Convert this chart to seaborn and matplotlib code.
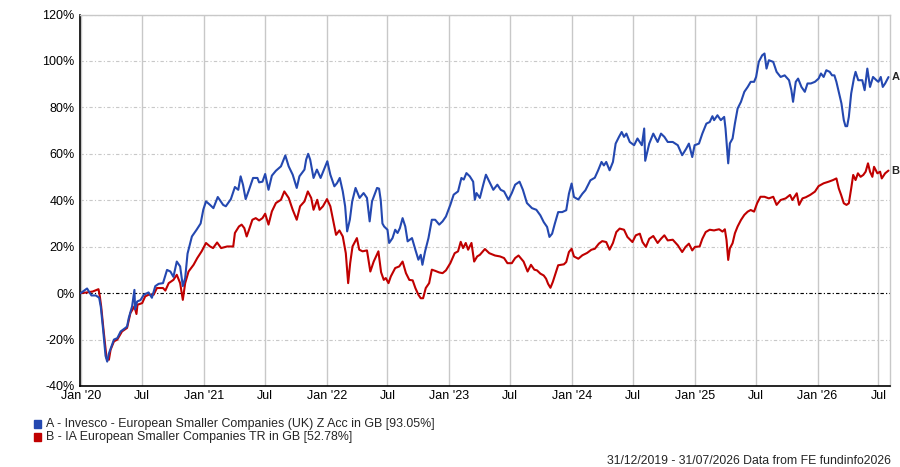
import pandas as pd
import matplotlib
matplotlib.use("Agg")
import matplotlib.pyplot as plt
from matplotlib.patches import Rectangle
import seaborn as sns

# cumulative growth (%)
dates_a = [
    "2019-12-31", "2020-01-19", "2020-02-01", "2020-02-14", "2020-02-24", "2020-02-29", "2020-03-07", "2020-03-14",
    "2020-03-19", "2020-03-24", "2020-03-29", "2020-04-08", "2020-04-18", "2020-04-28", "2020-05-12", "2020-05-17",
    "2020-05-22", "2020-06-01", "2020-06-08", "2020-06-10", "2020-06-16", "2020-06-26", "2020-07-06", "2020-07-20",
    "2020-07-30", "2020-08-09", "2020-08-19", "2020-09-01", "2020-09-13", "2020-09-23", "2020-10-02", "2020-10-12",
    "2020-10-22", "2020-10-30", "2020-11-06", "2020-11-13", "2020-11-26", "2020-12-10", "2020-12-22", "2020-12-30",
    "2021-01-07", "2021-01-19", "2021-01-29", "2021-02-11", "2021-02-27", "2021-03-07", "2021-03-22", "2021-04-03",
    "2021-04-13", "2021-04-20", "2021-04-27", "2021-05-05", "2021-05-15", "2021-05-27", "2021-06-09", "2021-06-14",
    "2021-06-24", "2021-07-02", "2021-07-12", "2021-07-22", "2021-08-03", "2021-08-18", "2021-08-26", "2021-08-31",
    "2021-09-10", "2021-09-22", "2021-10-04", "2021-10-12", "2021-10-27", "2021-11-01", "2021-11-07", "2021-11-13",
    "2021-11-23", "2021-12-03", "2021-12-14", "2021-12-24", "2022-01-03", "2022-01-12", "2022-01-24", "2022-02-01",
    "2022-02-09", "2022-02-18", "2022-02-25", "2022-03-03", "2022-03-11", "2022-03-18", "2022-03-28", "2022-04-09",
    "2022-04-21", "2022-05-01", "2022-05-09", "2022-05-16", "2022-05-31", "2022-06-06", "2022-06-11", "2022-06-16",
    "2022-06-21", "2022-07-01", "2022-07-06", "2022-07-16", "2022-07-24", "2022-07-31", "2022-08-07", "2022-08-15",
    "2022-08-23", "2022-08-30", "2022-09-12", "2022-09-22", "2022-10-01", "2022-10-08", "2022-10-13", "2022-10-21",
    "2022-10-31", "2022-11-10", "2022-11-20", "2022-12-02", "2022-12-12", "2022-12-22", "2023-01-04", "2023-01-14",
    "2023-01-27", "2023-02-06", "2023-02-13", "2023-02-21", "2023-03-03", "2023-03-13", "2023-03-18", "2023-03-23",
    "2023-04-02", "2023-04-12", "2023-04-20", "2023-04-30", "2023-05-12", "2023-05-24", "2023-06-03", "2023-06-13",
    "2023-06-26", "2023-07-06", "2023-07-16", "2023-07-29", "2023-08-08", "2023-08-20", "2023-09-04", "2023-09-17",
    "2023-09-29", "2023-10-09", "2023-10-19", "2023-10-26", "2023-11-03", "2023-11-11", "2023-11-21", "2023-12-03",
    "2023-12-15", "2023-12-23", "2023-12-31", "2024-01-07", "2024-01-20", "2024-02-01", "2024-02-10", "2024-02-25",
    "2024-03-09", "2024-03-19", "2024-03-29", "2024-04-05", "2024-04-12", "2024-04-22", "2024-05-02", "2024-05-10",
    "2024-05-20", "2024-05-28", "2024-06-04", "2024-06-11", "2024-06-21", "2024-07-04", "2024-07-14", "2024-07-27",
    "2024-08-03", "2024-08-06", "2024-08-10", "2024-08-18", "2024-08-30", "2024-09-12", "2024-09-22", "2024-10-02",
    "2024-10-12", "2024-10-27", "2024-11-11", "2024-11-24", "2024-12-06", "2024-12-14", "2024-12-24", "2024-12-31",
    "2025-01-13", "2025-01-23", "2025-02-04", "2025-02-14", "2025-02-22", "2025-02-27", "2025-03-09", "2025-03-19",
    "2025-03-29", "2025-04-02", "2025-04-08", "2025-04-10", "2025-04-15", "2025-04-23", "2025-04-30", "2025-05-08",
    "2025-05-18", "2025-05-28", "2025-06-07", "2025-06-16", "2025-06-26", "2025-07-02", "2025-07-10", "2025-07-20",
    "2025-07-27", "2025-08-02", "2025-08-09", "2025-08-22", "2025-09-01", "2025-09-13", "2025-09-25", "2025-10-08",
    "2025-10-15", "2025-10-20", "2025-10-28", "2025-11-04", "2025-11-14", "2025-11-24", "2025-12-02", "2025-12-12",
    "2025-12-24", "2026-01-04", "2026-01-11", "2026-01-19", "2026-01-27", "2026-02-06", "2026-02-13", "2026-02-20",
    "2026-02-26", "2026-03-05", "2026-03-13", "2026-03-20", "2026-03-25", "2026-03-30", "2026-04-04", "2026-04-11",
    "2026-04-19", "2026-04-24", "2026-05-02", "2026-05-14", "2026-05-21", "2026-05-29", "2026-06-06", "2026-06-15",
    "2026-06-25", "2026-07-01", "2026-07-08", "2026-07-14", "2026-07-21", "2026-07-31",
]
growth_a = [
    0.0, 2.0, -1.0, -1.0, -2.0, -6.0, -16.0, -27.0,
    -29.5, -26.0, -24.0, -20.0, -19.4, -16.5, -15.0, -14.4,
    -10.8, -5.7, 1.4, -7.0, -3.6, -3.0, -0.7, 0.3,
    -2.0, 3.0, 4.0, 4.3, 10.0, 9.3, 7.0, 13.6,
    11.5, 3.0, 6.5, 17.0, 24.4, 27.3, 30.0, 36.0,
    39.5, 38.0, 36.6, 41.4, 38.0, 37.4, 40.5, 45.7,
    44.5, 50.3, 46.7, 40.5, 44.5, 49.6, 49.6, 47.7,
    48.0, 51.3, 44.5, 50.6, 52.7, 54.6, 57.5, 59.3,
    54.6, 51.0, 45.3, 50.3, 53.2, 57.5, 60.0, 57.5,
    49.6, 53.2, 49.6, 53.2, 56.8, 51.0, 46.0, 47.4,
    49.6, 43.8, 37.4, 26.6, 31.6, 39.5, 45.3, 41.0,
    43.1, 41.0, 30.9, 39.5, 45.3, 45.0, 40.0, 30.0,
    28.7, 27.3, 21.6, 23.7, 27.3, 25.9, 28.0, 32.3,
    28.7, 22.3, 23.7, 18.7, 14.4, 16.5, 12.2, 18.0,
    23.7, 31.6, 31.6, 29.5, 30.9, 33.0, 38.0, 42.4,
    43.8, 49.6, 48.9, 51.7, 50.3, 48.0, 40.2, 43.1,
    41.0, 46.7, 51.0, 48.0, 44.5, 46.7, 44.5, 43.8,
    40.2, 43.1, 46.7, 48.0, 44.5, 38.8, 36.6, 35.9,
    33.5, 30.6, 28.5, 24.2, 25.6, 29.9, 34.9, 34.9,
    35.7, 42.8, 47.2, 41.4, 40.3, 42.8, 44.3, 48.6,
    49.7, 52.9, 56.5, 55.0, 56.5, 52.9, 56.5, 64.4,
    67.3, 69.4, 67.3, 68.7, 65.1, 63.7, 66.6, 63.7,
    70.9, 57.0, 59.4, 64.4, 68.7, 65.1, 68.7, 67.3,
    65.1, 65.1, 63.7, 59.4, 62.2, 64.4, 58.6, 63.7,
    64.4, 68.7, 73.0, 73.7, 76.2, 74.5, 76.6, 74.5,
    75.9, 70.9, 59.5, 55.9, 64.5, 66.6, 73.1, 79.5,
    82.4, 86.7, 88.8, 91.0, 91.0, 93.1, 99.6, 102.4,
    103.2, 96.7, 100.3, 99.6, 95.3, 93.1, 93.8, 91.7,
    87.4, 82.4, 91.0, 92.4, 88.8, 86.7, 90.3, 90.3,
    91.0, 92.4, 94.6, 93.1, 96.0, 95.3, 93.8, 93.8,
    91.0, 86.7, 81.7, 74.5, 71.9, 71.9, 75.9, 86.0,
    92.4, 95.3, 91.7, 91.7, 87.4, 96.7, 88.8, 93.1,
    91.7, 91.0, 93.1, 88.8, 90.3, 93.05,
]

dates_b = [
    "2019-12-31", "2020-01-19", "2020-02-05", "2020-02-22", "2020-02-26", "2020-03-01", "2020-03-08", "2020-03-17",
    "2020-03-24", "2020-03-29", "2020-04-08", "2020-04-18", "2020-05-02", "2020-05-17", "2020-05-27", "2020-06-08",
    "2020-06-14", "2020-06-17", "2020-07-01", "2020-07-10", "2020-07-20", "2020-08-04", "2020-08-14", "2020-09-01",
    "2020-09-08", "2020-09-18", "2020-10-02", "2020-10-12", "2020-10-22", "2020-10-30", "2020-11-06", "2020-11-16",
    "2020-12-01", "2020-12-12", "2020-12-25", "2021-01-07", "2021-01-19", "2021-01-28", "2021-02-09", "2021-02-21",
    "2021-03-11", "2021-03-29", "2021-04-03", "2021-04-15", "2021-04-23", "2021-05-01", "2021-05-08", "2021-05-15",
    "2021-05-25", "2021-06-04", "2021-06-14", "2021-06-24", "2021-07-02", "2021-07-12", "2021-07-22", "2021-08-03",
    "2021-08-18", "2021-08-28", "2021-09-10", "2021-09-22", "2021-10-04", "2021-10-14", "2021-10-27", "2021-11-06",
    "2021-11-16", "2021-11-23", "2021-12-04", "2021-12-11", "2021-12-21", "2022-01-02", "2022-01-12", "2022-01-22",
    "2022-01-29", "2022-02-08", "2022-02-18", "2022-02-27", "2022-03-06", "2022-03-12", "2022-03-19", "2022-04-01",
    "2022-04-08", "2022-04-18", "2022-05-01", "2022-05-11", "2022-05-21", "2022-06-04", "2022-06-12", "2022-06-20",
    "2022-06-26", "2022-07-04", "2022-07-11", "2022-07-24", "2022-08-05", "2022-08-15", "2022-08-25", "2022-09-04",
    "2022-09-14", "2022-09-22", "2022-10-01", "2022-10-08", "2022-10-15", "2022-10-23", "2022-11-02", "2022-11-10",
    "2022-11-20", "2022-12-02", "2022-12-12", "2022-12-22", "2023-01-04", "2023-01-17", "2023-01-27", "2023-02-04",
    "2023-02-11", "2023-02-19", "2023-02-26", "2023-03-08", "2023-03-16", "2023-03-25", "2023-04-02", "2023-04-17",
    "2023-04-30", "2023-05-17", "2023-06-01", "2023-06-13", "2023-06-23", "2023-07-06", "2023-07-16", "2023-07-26",
    "2023-08-10", "2023-08-22", "2023-09-01", "2023-09-11", "2023-09-19", "2023-09-29", "2023-10-09", "2023-10-16",
    "2023-10-22", "2023-10-29", "2023-11-05", "2023-11-13", "2023-11-21", "2023-12-08", "2023-12-15", "2023-12-23",
    "2023-12-31", "2024-01-07", "2024-01-20", "2024-02-01", "2024-02-15", "2024-02-28", "2024-03-09", "2024-03-21",
    "2024-03-31", "2024-04-12", "2024-04-22", "2024-05-02", "2024-05-12", "2024-05-22", "2024-06-04", "2024-06-14",
    "2024-06-29", "2024-07-09", "2024-07-21", "2024-07-29", "2024-08-08", "2024-08-18", "2024-08-30", "2024-09-12",
    "2024-09-22", "2024-10-02", "2024-10-12", "2024-10-27", "2024-11-11", "2024-11-24", "2024-12-04", "2024-12-14",
    "2024-12-24", "2025-01-01", "2025-01-15", "2025-01-23", "2025-02-02", "2025-02-14", "2025-02-27", "2025-03-04",
    "2025-03-14", "2025-03-24", "2025-03-31", "2025-04-05", "2025-04-10", "2025-04-15", "2025-04-23", "2025-04-30",
    "2025-05-08", "2025-05-18", "2025-05-28", "2025-06-07", "2025-06-16", "2025-06-26", "2025-07-05", "2025-07-15",
    "2025-07-27", "2025-08-09", "2025-08-22", "2025-09-01", "2025-09-13", "2025-09-28", "2025-10-11", "2025-10-18",
    "2025-10-31", "2025-11-07", "2025-11-17", "2025-11-27", "2025-12-10", "2025-12-24", "2026-01-04", "2026-01-19",
    "2026-02-03", "2026-02-16", "2026-02-26", "2026-03-05", "2026-03-12", "2026-03-20", "2026-03-28", "2026-04-04",
    "2026-04-11", "2026-04-17", "2026-04-24", "2026-05-01", "2026-05-09", "2026-05-17", "2026-05-24", "2026-05-31",
    "2026-06-06", "2026-06-13", "2026-06-18", "2026-06-28", "2026-07-06", "2026-07-11", "2026-07-21", "2026-07-31",
]
growth_b = [
    0.0, 0.3, 0.7, 1.7, -1.4, -5.7, -15.8, -28.0,
    -28.7, -24.4, -20.8, -20.0, -16.5, -15.0, -8.6, -5.7,
    -9.0, -5.0, -4.3, -1.4, -0.7, -0.7, 2.2, 2.2,
    1.1, 4.3, 5.7, 7.9, 4.3, -2.9, 4.3, 9.3,
    12.2, 15.1, 18.0, 21.6, 20.1, 19.4, 21.8, 19.4,
    20.1, 20.1, 25.9, 28.7, 29.5, 28.0, 24.4, 27.3,
    31.6, 32.3, 31.3, 32.3, 34.2, 29.5, 35.2, 38.8,
    40.2, 43.8, 41.0, 35.9, 31.6, 37.4, 39.5, 43.8,
    41.0, 35.9, 40.2, 35.9, 37.4, 40.5, 37.4, 30.2,
    25.1, 27.0, 24.4, 17.2, 4.3, 12.9, 20.1, 23.7,
    18.7, 18.0, 18.4, 9.3, 13.6, 18.0, 9.0, 5.7,
    6.5, 4.3, 7.2, 10.8, 11.5, 13.6, 8.6, 5.7,
    5.5, 2.2, -0.7, -2.2, -2.2, 2.2, 4.3, 10.1,
    9.6, 8.9, 8.6, 9.8, 12.9, 17.2, 18.0, 22.1,
    19.4, 21.6, 18.7, 21.6, 13.6, 15.8, 16.5, 19.0,
    17.2, 16.2, 15.8, 15.1, 12.9, 12.9, 15.1, 16.2,
    13.6, 9.3, 12.2, 10.1, 9.8, 8.4, 7.6, 6.2,
    4.0, 2.3, 4.8, 8.4, 12.0, 12.4, 13.4, 17.7,
    19.1, 15.8, 14.8, 16.3, 17.3, 18.7, 19.1, 21.3,
    22.4, 22.0, 18.7, 21.6, 26.3, 27.8, 27.3, 24.2,
    22.0, 24.9, 25.6, 22.0, 19.9, 23.4, 24.6, 21.6,
    23.4, 24.9, 22.7, 23.0, 20.6, 17.7, 19.9, 21.3,
    18.4, 19.9, 20.1, 23.4, 26.3, 27.3, 27.0, 27.2,
    27.5, 26.5, 27.5, 22.9, 14.3, 19.3, 21.5, 25.8,
    28.7, 31.5, 33.7, 35.1, 35.8, 35.1, 38.7, 41.5,
    41.5, 40.8, 41.5, 38.0, 40.1, 40.8, 42.3, 40.1,
    43.0, 38.0, 40.8, 41.3, 42.3, 43.7, 46.1, 47.3,
    48.0, 48.7, 49.4, 45.1, 42.3, 38.7, 38.0, 38.7,
    45.1, 50.9, 48.7, 51.6, 50.1, 50.9, 52.3, 55.9,
    52.3, 50.1, 54.4, 51.6, 52.3, 49.4, 51.6, 52.78,
]

series_tags = ["A", "B"]
series_names = [
    "A - Invesco - European Smaller Companies (UK) Z Acc in GB [93.05%]",
    "B - IA European Smaller Companies TR in GB [52.78%]",
]
series_colors = ["#2448b0", "#c00000"]

tick_dates = ["2020-01-01", "2020-07-01", "2021-01-01", "2021-07-01", "2022-01-01", "2022-07-01", "2023-01-01",
              "2023-07-01", "2024-01-01", "2024-07-01", "2025-01-01", "2025-07-01", "2026-01-01", "2026-07-01"]
tick_labels = ["Jan '20", "Jul", "Jan '21", "Jul", "Jan '22", "Jul", "Jan '23",
               "Jul", "Jan '24", "Jul", "Jan '25", "Jul", "Jan '26", "Jul"]
y_ticks = [-40, -20, 0, 20, 40, 60, 80, 100, 120]
footer = "31/12/2019 - 31/07/2026 Data from FE fundinfo2026"

df = pd.concat([
    pd.DataFrame({"date": pd.to_datetime(dates_a), "growth": growth_a, "tag": "A"}),
    pd.DataFrame({"date": pd.to_datetime(dates_b), "growth": growth_b, "tag": "B"}),
], ignore_index=True)

sns.set_style("white")
plt.rcParams["font.family"] = ["Liberation Sans", "DejaVu Sans"]

W, H = 900, 467
fig = plt.figure(figsize=(W / 100, H / 100), dpi=100)
ax = fig.add_axes([80 / W, 1 - 386 / H, (889.5 - 80) / W, (386 - 14.5) / H])

dashdot = (0, (3, 2, 1, 2))
ax.set_xticks(pd.to_datetime(tick_dates))
ax.set_xticklabels(tick_labels)
ax.set_yticks(y_ticks)
ax.set_yticklabels([f"{v}%" for v in y_ticks])
ax.grid(axis="x", color="#c8c8c8", lw=1.0, ls="-", zorder=0)
ax.grid(axis="y", color="#c8c8c8", lw=0.8, ls=dashdot, zorder=0)
ax.axhline(0, color="black", lw=0.8, ls=dashdot, zorder=1)

palette = dict(zip(series_tags, series_colors))
sns.lineplot(data=df, x="date", y="growth", hue="tag", hue_order=["B", "A"],
             palette=palette, linewidth=1.5, legend=False, ax=ax, zorder=3)

ax.set_xlim(pd.Timestamp("2019-12-29"), pd.Timestamp("2026-08-03"))
ax.set_ylim(-40, 120)
ax.set_xlabel("")
ax.set_ylabel("")
ax.tick_params(axis="both", length=0, labelsize=9, colors="black")
ax.tick_params(axis="y", pad=4)
ax.tick_params(axis="x", pad=3)

for side in ["top", "right"]:
    ax.spines[side].set_color("#c8c8c8")
    ax.spines[side].set_linewidth(1.0)
for side in ["left", "bottom"]:
    ax.spines[side].set_color("black")
    ax.spines[side].set_linewidth(1.2)

# end-of-line letters, just right of the plot box
for tag, vals in [("A", growth_a), ("B", growth_b)]:
    ax.annotate(tag, (1.0, vals[-1]), xycoords=("axes fraction", "data"), xytext=(1.5, 0),
                textcoords="offset points", ha="left", va="center", fontsize=8,
                fontweight="bold", annotation_clip=False)

# legend block under the chart
for i, (name, color) in enumerate(zip(series_names, series_colors)):
    y = 424 + i * 13
    fig.patches.append(Rectangle((34 / W, 1 - (y + 4) / H), 7 / W, 8 / H,
                                 transform=fig.transFigure, color=color))
    fig.text(46 / W, 1 - y / H, name, fontsize=8.9, va="center", ha="left")

fig.text(891 / W, 1 - 461 / H, footer, fontsize=8.8, va="center", ha="right")

fig.savefig("out.png", dpi=100)
